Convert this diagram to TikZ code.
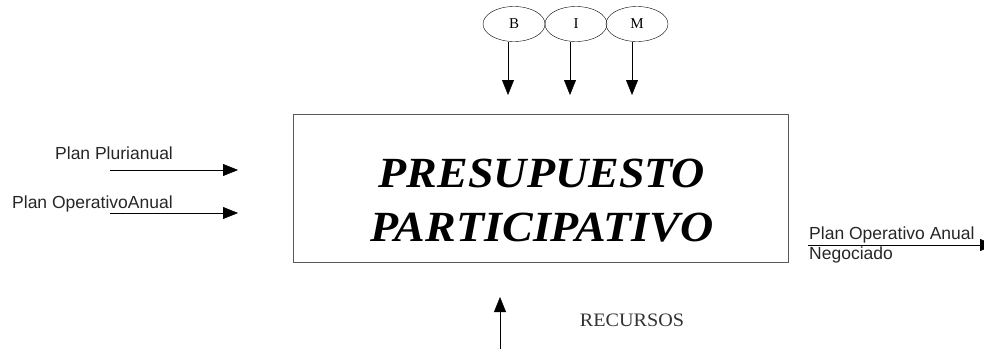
\documentclass[tikz,border=0pt]{standalone}
\usepackage{fontspec}
\setmainfont{Liberation Serif}
\setsansfont{Liberation Sans}
\usetikzlibrary{arrows.meta,shapes.geometric}

\begin{document}
\begin{tikzpicture}[x=1pt,y=-1pt,>={Triangle[length=15pt,width=12pt]},
  lbl/.style={font=\sffamily\fontsize{17.5}{19}\selectfont,inner sep=0pt,anchor=base west,text=black!85},
  elip/.style={draw,ellipse,minimum width=62pt,minimum height=35pt,inner sep=0pt,font=\fontsize{15}{17}\selectfont}]
  \useasboundingbox (0,0) rectangle (984,348);
  % caja central
  \node[draw=black!65,minimum width=495pt,minimum height=148pt] (pp) at (540.5,188) {};
  \node[font=\bfseries\itshape\fontsize{43}{54}\selectfont,align=center,xscale=1.07] (tit) at (542,201) {PRESUPUESTO\\PARTICIPATIVO};
  % B I M
  \foreach \n/\t/\x/\ax in {b/B/514/508,i/I/576/570,m/M/637/632}
  {
    \node[elip] (\n) at (\x,24) {\t};
    \coordinate (\n x) at (\ax,95);
    \draw[->] (\n x |- \n.south) -- (\n x);
  }
  % entradas
  \node[lbl] (plur) at (55,159) {Plan Plurianual};
  \node[lbl] (poa) at (12,208) {Plan OperativoAnual};
  \coordinate (plura) at (110,170);
  \coordinate (plurb) at (238,170);
  \coordinate (poaa) at (110,213);
  \coordinate (poab) at (238,213);
  \draw[->] (plura) -- (plurb);
  \draw[->] (poaa) -- (poab);
  % salida
  \node[lbl] (poan) at (809,239) {Plan Operativo Anual};
  \node[lbl] (neg) at (809,259) {Negociado};
  \coordinate (sala) at (808,245);
  \coordinate (salb) at (995,245);
  \draw[->] (sala) -- (salb);
  % recursos
  \coordinate (reca) at (500,350);
  \coordinate (recb) at (500,297);
  \draw[->] (reca) -- (recb);
  \node[font=\fontsize{19}{21}\selectfont,text=black!80,xscale=1.06] (rec) at (632,320) {RECURSOS};
\end{tikzpicture}
\end{document}
